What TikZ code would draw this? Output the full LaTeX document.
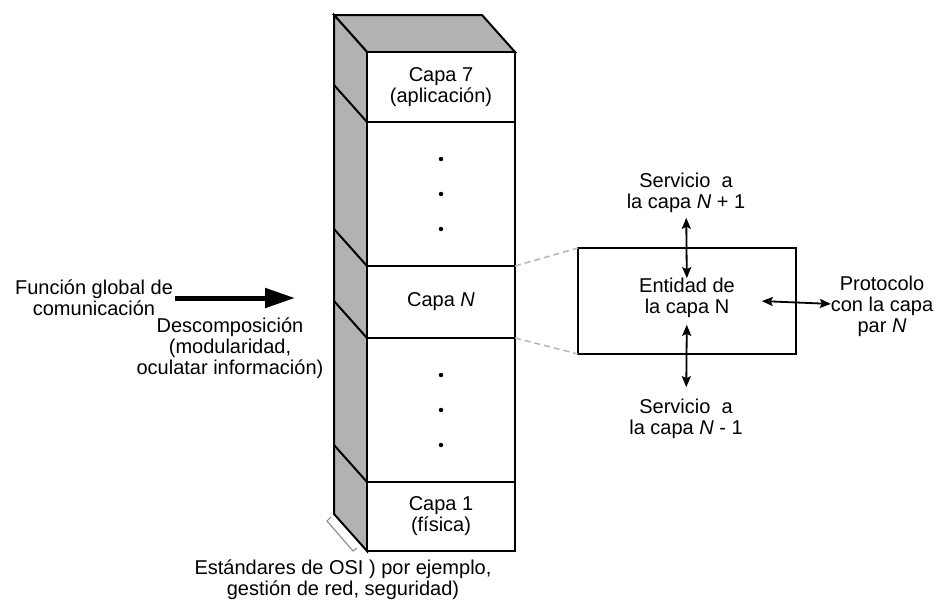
\documentclass[tikz,border=0pt]{standalone}
\usepackage{fontspec}
\setmainfont{Liberation Sans}
\usetikzlibrary{arrows.meta,positioning}

\begin{document}
\begin{tikzpicture}[x=1pt,y=-1pt,line width=2pt,
  every node/.style={font=\fontsize{20}{21}\selectfont,align=center,inner sep=0pt,outer sep=0pt},
  capa/.style={draw,fill=white,minimum width=148pt,minimum height=#1},
  lado/.style={fill=black!30},
  doble/.style={{Stealth[length=11pt,width=9pt,inset=2pt]}-{Stealth[length=11pt,width=9pt,inset=2pt]},line width=1.8pt},
  punto/.style={circle,fill,minimum size=4.5pt},
  guia/.style={gray!60,dashed,dash pattern=on 6pt off 4pt,line width=1.4pt}]
\useasboundingbox (0,0) rectangle (941,608);
% caras grises de la pila
\filldraw[lado] (334,15) -- (482,15) -- (515,52) -- (367,52) -- cycle;
\filldraw[lado] (334,15) -- (367,52) -- (367,551) -- (334,514) -- cycle;
% capas
\node [capa=70pt] (c7) at (441,87) {Capa 7\\(aplicación)};
\node [capa=144pt,below=0pt of c7] (d1) {};
\node [capa=72pt,below=0pt of d1] (cN) {Capa \textit{N}};
\node [capa=144pt,below=0pt of cN] (d2) {};
\node [capa=69pt,below=0pt of d2] (c1) {Capa 1\\(física)};
\foreach \a in {c7.south west,cN.north west,cN.south west,c1.north west}
  \draw (\a) -- ++(-33,-37);
\foreach \y in {-35,0,35} {
  \node [punto] at ([yshift=\y pt]d1.center) {};
  \node [punto] at ([yshift=\y pt]d2.center) {};
}
\draw[gray,line width=1pt] (331,517) -- (327,521) -- (353,551) -- (357,548);
\node (osi) at (343,580) {Estándares de OSI ) por ejemplo,\\gestión de red, seguridad)};
% izquierda
\node (fg) at (94,298) {Función global de\\comunicación};
\coordinate (meta) at (295,298);
\draw[line width=5pt,-{Triangle[length=30pt,width=19pt]}] ([xshift=2pt]fg.east) -- (meta);
\node (desc) at (230,348) {Descomposición\\(modularidad,\\oculatar información)};
% entidad de la capa N
\node [draw,minimum width=218pt,minimum height=106pt] (caja) at (687,301) {};
\node (ent) at (687,298) {Entidad de\\la capa N};
\node (sup) at (686,193) {Servicio\ \ a\\la capa \textit{N} + 1};
\node (inf) at (686,419) {Servicio\ \ a\\la capa \textit{N} - 1};
\node (prot) at (882,306) {Protocolo\\con la capa\\par \textit{N}};
\draw[doble,shorten <=5pt] (sup) -- (ent);
\draw[doble,shorten <=7pt,shorten >=12pt] (ent) -- (inf);
\draw[doble,shorten <=27pt] (ent) -- (prot);
\draw[guia] (cN.north east) -- (caja.north west);
\draw[guia] (cN.south east) -- (caja.south west);
\end{tikzpicture}
\end{document}
